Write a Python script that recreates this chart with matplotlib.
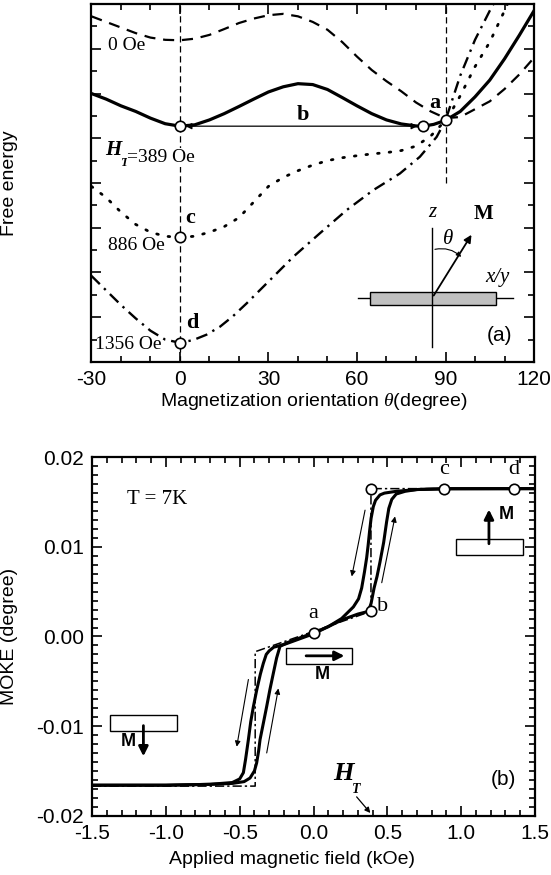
import numpy as np
import matplotlib
matplotlib.use("Agg")
import matplotlib.pyplot as plt
from matplotlib.patches import Rectangle, FancyArrowPatch
from matplotlib.ticker import MultipleLocator

plt.rcParams['font.family'] = ['Liberation Sans', 'DejaVu Sans']
plt.rcParams['axes.unicode_minus'] = False
plt.rcParams['mathtext.fontset'] = 'custom'
plt.rcParams['mathtext.it'] = 'Liberation Serif:italic'
plt.rcParams['mathtext.rm'] = 'Liberation Serif'
SERIF = ['Liberation Serif', 'DejaVu Serif']

# ---------------- (a) free energy versus magnetization angle ----------------
theta_0oe = [-30, -25, -20, -15, -10, -5, 0, 5, 10, 15, 20, 25, 30, 35, 40, 45,
             50, 55, 60, 65, 70, 75, 80, 85, 90, 95, 100, 105, 110, 115, 120]
energy_0oe = [15.45, 15.2, 14.95, 14.7, 14.5, 14.4, 14.38, 14.45, 14.62, 14.88,
              15.15, 15.35, 15.5, 15.56, 15.45, 15.2, 14.85, 14.3, 13.65, 13.05,
              12.55, 12.1, 11.6, 11.2, 10.9, 10.95, 11.3, 11.65, 12.2, 12.85, 13.6]

theta_389oe = [-30, -25, -20, -15, -10, -5, 0, 5, 10, 15, 20, 25, 30, 35, 40, 45,
               50, 55, 60, 65, 70, 75, 80, 82.4, 86, 90, 95, 100, 105, 110, 115, 120]
energy_389oe = [12.0, 11.75, 11.45, 11.2, 10.9, 10.65, 10.54, 10.6, 10.82, 11.1,
                11.42, 11.75, 12.07, 12.3, 12.44, 12.4, 12.18, 11.82, 11.45, 11.1,
                10.82, 10.64, 10.55, 10.54, 10.62, 10.8, 11.2, 11.85, 12.6, 13.55,
                14.6, 15.7]

theta_886oe = [-30, -25, -20, -15, -10, -5, 0, 5, 10, 15, 20, 25, 30, 35, 40, 45,
               50, 55, 60, 65, 70, 75, 80, 85, 90, 92, 95, 100, 105, 110, 112]
energy_886oe = [7.85, 7.35, 6.7, 6.15, 5.8, 5.62, 5.57, 5.62, 5.8, 6.05, 6.45,
                7.15, 7.85, 8.25, 8.55, 8.8, 9.0, 9.13, 9.22, 9.3, 9.36, 9.45,
                9.65, 10.1, 10.8, 11.2, 11.9, 13.2, 14.3, 15.7, 16.3]

theta_1356oe = [-30, -25, -20, -15, -10, -5, 0, 4.5, 9, 13.6, 18, 22.6, 30.5,
                38.4, 47.4, 56.5, 65.5, 74.5, 81.3, 87, 90, 92, 95, 100, 105, 107.5]
energy_1356oe = [3.85, 3.2, 2.55, 1.95, 1.4, 1.0, 0.86, 0.98, 1.22, 1.58, 2.05,
                 2.62, 3.66, 4.7, 5.75, 6.79, 7.68, 8.42, 9.17, 10.06, 10.8,
                 11.6, 12.8, 14.4, 15.7, 16.3]

# open circles on the energy curves (theta, energy)
states_theta = [0, 82.4, 90, 0, 0]
states_energy = [10.54, 10.54, 10.8, 5.57, 0.86]

# ---------------- (b) MOKE hysteresis loop ----------------
field_up = [-1.5, -1.0, -0.7, -0.55, -0.47, -0.43, -0.40, -0.385, -0.372, -0.362,
            -0.34, -0.317, -0.295, -0.272, -0.25, -0.227, -0.18, -0.1, 0.0, 0.1,
            0.2, 0.3, 0.371, 0.39, 0.41, 0.43, 0.45, 0.475, 0.495, 0.51, 0.53,
            0.56, 0.62, 0.7, 0.9, 1.5]
moke_up = [-0.0166, -0.0166, -0.0165, -0.0164, -0.0162, -0.0158, -0.0150, -0.0141,
           -0.0128, -0.0115, -0.0097, -0.0078, -0.0059, -0.0041, -0.0024, -0.0011,
           -0.0007, -0.0002, 0.0004, 0.0011, 0.0019, 0.0025, 0.0028, 0.0037,
           0.0054, 0.0067, 0.0083, 0.0105, 0.0128, 0.0143, 0.0153, 0.0159,
           0.0162, 0.0164, 0.01648, 0.0165]

field_down = [1.5, 0.9, 0.7, 0.56, 0.48, 0.45, 0.42, 0.405, 0.39, 0.38, 0.37, 0.36,
              0.345, 0.326, 0.305, 0.27, 0.19, 0.1, 0.0, -0.1, -0.2, -0.27, -0.3,
              -0.32, -0.34, -0.36, -0.385, -0.408, -0.425, -0.441, -0.46, -0.475,
              -0.5, -0.55, -0.7, -1.0, -1.5]
moke_down = [0.0165, 0.0165, 0.0164, 0.0162, 0.0160, 0.0158, 0.0152, 0.0145,
             0.0132, 0.0118, 0.0102, 0.0088, 0.0072, 0.0054, 0.0042, 0.0033,
             0.0020, 0.0011, 0.0003, -0.0003, -0.0009, -0.0012, -0.0016, -0.0020,
             -0.0030, -0.0042, -0.0060, -0.0079, -0.0095, -0.0115, -0.0137,
             -0.0152, -0.0159, -0.0163, -0.0165, -0.0166, -0.0166]

field_model = [-1.5, -0.395, -0.395, 0.389, 0.389, 1.5]
moke_model = [-0.0167, -0.0167, -0.0017, 0.0028, 0.0165, 0.0165]

points_field = [0.0, 0.389, 0.389, 0.886, 1.356]
points_moke = [0.0004, 0.0028, 0.0165, 0.0165, 0.0165]
points_labels = ['a', 'b', '', 'c', 'd']

TICK_FS = 15
LABEL_FS = 14

fig = plt.figure(figsize=(5.51, 8.75), dpi=100)
ax1 = fig.add_axes([0.1659, 0.5863, 0.8033, 0.4091])
ax2 = fig.add_axes([0.1670, 0.0678, 0.8040, 0.4096])

for ax in (ax1, ax2):
    for s in ax.spines.values():
        s.set_linewidth(1.6)
    ax.tick_params(which='both', direction='in', top=True, right=True,
                   labelsize=TICK_FS, width=1.2, pad=6)
    ax.tick_params(which='major', length=7)
    ax.tick_params(which='minor', length=4)

# ---- panel (a) ----
ax1.axvline(0, color='k', lw=0.9, ls=(0, (5, 3)), zorder=1)
ax1.plot([90, 90], [8.0, 16], color='k', lw=0.9, ls=(0, (5, 3)), zorder=1)

ax1.plot(theta_0oe, energy_0oe, color='k', lw=1.6, ls=(0, (5, 3.5)))
ax1.plot(theta_389oe, energy_389oe, color='k', lw=2.3, ls='-')
ax1.plot(theta_886oe, energy_886oe, color='k', lw=2.0, ls=(0, (0.6, 3.6)),
         dash_capstyle='round')
ax1.plot(theta_1356oe, energy_1356oe, color='k', lw=1.7,
         ls=(0, (5, 2.5, 1, 2.5)))

ax1.annotate('', xy=(states_theta[0], states_energy[0]),
             xytext=(states_theta[1], states_energy[1]),
             arrowprops=dict(arrowstyle='<|-|>', lw=0.9, color='k',
                             mutation_scale=9, shrinkA=4, shrinkB=4))
ax1.plot(states_theta, states_energy, ls='none', marker='o', ms=7.5,
         mfc='white', mec='k', mew=1.2, zorder=5)

ax1.set_xlim(-30, 120)
ax1.set_ylim(0, 16)
ax1.xaxis.set_major_locator(MultipleLocator(30))
ax1.xaxis.set_minor_locator(MultipleLocator(10))
ax1.yaxis.set_major_locator(MultipleLocator(2))
ax1.yaxis.set_minor_locator(MultipleLocator(1))
ax1.tick_params(axis='y', which='both', labelleft=False)
ax1.set_xlabel(r'Magnetization orientation $\theta$(degree)', fontsize=LABEL_FS)
ax1.xaxis.set_label_coords(0.502, -0.082)
ax1.set_ylabel('Free energy', fontsize=LABEL_FS)
ax1.yaxis.set_label_coords(-0.166, 0.5)

ax1.text(-24.4, 14.15, '0 Oe', family=SERIF, fontsize=14, va='center', ha='left')
h = ax1.text(-25.4, 9.46, 'H', family=SERIF, fontsize=15, style='italic',
             weight='bold', va='center', ha='left',
             bbox=dict(fc='white', ec='none', pad=0.5))
t_sub = ax1.annotate('T', xy=(1, 0), xycoords=h, xytext=(-1, -2),
                     textcoords='offset points', family=SERIF, fontsize=9,
                     style='italic', weight='bold', va='center', ha='left')
ax1.annotate('=389 Oe', xy=(1, 0.5), xycoords=t_sub, xytext=(0, 4),
             textcoords='offset points', family=SERIF, fontsize=14,
             va='center', ha='left', bbox=dict(fc='white', ec='none', pad=0.5))
ax1.text(-24.4, 5.22, '886 Oe', family=SERIF, fontsize=14, va='center', ha='left')
ax1.text(-28.8, 0.76, '1356 Oe', family=SERIF, fontsize=14, va='center', ha='left')
ax1.text(86.4, 11.56, 'a', family=SERIF, fontsize=16, weight='bold',
         va='center', ha='center')
ax1.text(41.8, 11.03, 'b', family=SERIF, fontsize=16, weight='bold',
         va='center', ha='center')
ax1.text(3.4, 6.43, 'c', family=SERIF, fontsize=16, weight='bold',
         va='center', ha='center')
ax1.text(4.1, 1.74, 'd', family=SERIF, fontsize=16, weight='bold',
         va='center', ha='center')

# sketch of the film and magnetization direction
tr = ax1.transAxes
ax1.add_patch(Rectangle((0.629, 0.159), 0.285, 0.037, transform=tr,
                        fc='#c0c0c0', ec='k', lw=1.0, zorder=3))
ax1.plot([0.770, 0.770], [0.042, 0.374], transform=tr, color='k', lw=1.0, zorder=4)
ax1.plot([0.602, 0.953], [0.179, 0.179], transform=tr, color='k', lw=1.0, zorder=2)
ax1.add_patch(FancyArrowPatch((0.770, 0.179), (0.862, 0.362), transform=tr,
                              arrowstyle='-|>', mutation_scale=11, lw=1.3,
                              color='k', zorder=5))
ax1.add_patch(FancyArrowPatch((0.770, 0.313), (0.840, 0.288), transform=tr,
                              arrowstyle='-|>', mutation_scale=7, lw=0.8,
                              connectionstyle='arc3,rad=-0.3', color='k', zorder=5))
ax1.text(0.806, 0.346, r'$\theta$', transform=tr, fontsize=15, ha='center', va='center')
ax1.text(0.770, 0.418, 'z', transform=tr, family=SERIF, style='italic',
         fontsize=15, ha='center', va='center')
ax1.text(0.885, 0.413, 'M', transform=tr, family=SERIF, weight='bold',
         fontsize=15, ha='center', va='center')
ax1.text(0.917, 0.237, 'x/y', transform=tr, family=SERIF, style='italic',
         fontsize=15, ha='center', va='center')
ax1.text(0.923, 0.075, '(a)', transform=tr, fontsize=15, ha='center', va='center')

# ---- panel (b) ----
ax2.plot(field_model, moke_model, color='k', lw=1.1, ls=(0, (6, 2, 1.5, 2)), zorder=2)
ax2.plot(field_down, moke_down, color='k', lw=2.2, zorder=3)
ax2.plot(field_up, moke_up, color='k', lw=2.2, zorder=3)
ax2.plot(points_field, points_moke, ls='none', marker='o', ms=7.5,
         mfc='white', mec='k', mew=1.2, zorder=5)

label_offsets = {'a': (0.0, 0.0022), 'b': (0.078, 0.0006),
                 'c': (0.0, 0.0021), 'd': (0.0, 0.0021)}
for fx, fy, lab in zip(points_field, points_moke, points_labels):
    if lab:
        dx, dy = label_offsets[lab]
        ax2.text(fx + dx, fy + dy, lab, family=SERIF, fontsize=16,
                 ha='center', va='center')

# sweep direction arrows
sweep_arrows = [((0.349, 0.0141), (0.259, 0.0067)),
                ((0.462, 0.0060), (0.552, 0.0134)),
                ((-0.441, -0.0048), (-0.520, -0.0123)),
                ((-0.317, -0.0130), (-0.238, -0.0058))]
for tail, tip in sweep_arrows:
    ax2.annotate('', xy=tip, xytext=tail,
                 arrowprops=dict(arrowstyle='-|>', lw=0.8, color='k',
                                 mutation_scale=8, shrinkA=0, shrinkB=0))

ax2.set_xlim(-1.5, 1.5)
ax2.set_ylim(-0.02, 0.02)
ax2.xaxis.set_major_locator(MultipleLocator(0.5))
ax2.xaxis.set_minor_locator(MultipleLocator(0.1))
ax2.yaxis.set_major_locator(MultipleLocator(0.01))
ax2.yaxis.set_minor_locator(MultipleLocator(0.001))
ax2.xaxis.set_major_formatter(plt.FuncFormatter(lambda v, p: f'{v:.1f}'))
ax2.yaxis.set_major_formatter(plt.FuncFormatter(lambda v, p: f'{v:.2f}'))
ax2.set_xlabel('Applied magnetic field (kOe)', fontsize=LABEL_FS)
ax2.xaxis.set_label_coords(0.451, -0.098)
ax2.set_ylabel('MOKE (degree)', fontsize=LABEL_FS)
ax2.yaxis.set_label_coords(-0.166, 0.5)

tr2 = ax2.transAxes
ax2.text(0.080, 0.881, 'T = 7K', transform=tr2, family=SERIF, fontsize=15,
         ha='left', va='center')
ax2.text(0.928, 0.100, '(b)', transform=tr2, fontsize=15, ha='center', va='center')

# film sketches with magnetization arrows
film_boxes = [((0.822, 0.727), (0.896, 0.751), (0.896, 0.862), (0.936, 0.841)),
              ((0.437, 0.423), (0.477, 0.446), (0.576, 0.446), (0.519, 0.393)),
              ((0.041, 0.237), (0.116, 0.259), (0.116, 0.158), (0.081, 0.206))]
for corner, start, end, mpos in film_boxes:
    ax2.add_patch(Rectangle(corner, 0.150, 0.045, transform=tr2, fc='white',
                            ec='k', lw=1.0, zorder=4))
    ax2.add_patch(FancyArrowPatch(start, end, transform=tr2, arrowstyle='-|>',
                                  mutation_scale=14, lw=2.0, color='k', zorder=6))
    ax2.text(mpos[0], mpos[1], 'M', transform=tr2, fontsize=13, weight='bold',
             ha='center', va='center', zorder=6)

ht = ax2.text(0.202, -0.0153, 'H', family=SERIF, fontsize=19, style='italic',
              weight='bold', ha='center', va='center')
ax2.annotate('T', xy=(1, 0), xycoords=ht, xytext=(-1, -3),
             textcoords='offset points', family=SERIF, fontsize=10,
             style='italic', weight='bold', ha='left', va='center')
ax2.annotate('', xy=(0.385, -0.0197), xytext=(0.292, -0.0179),
             arrowprops=dict(arrowstyle='-|>', lw=0.9, color='k',
                             mutation_scale=8, shrinkA=0, shrinkB=0))

fig.savefig('out.png', dpi=100)
